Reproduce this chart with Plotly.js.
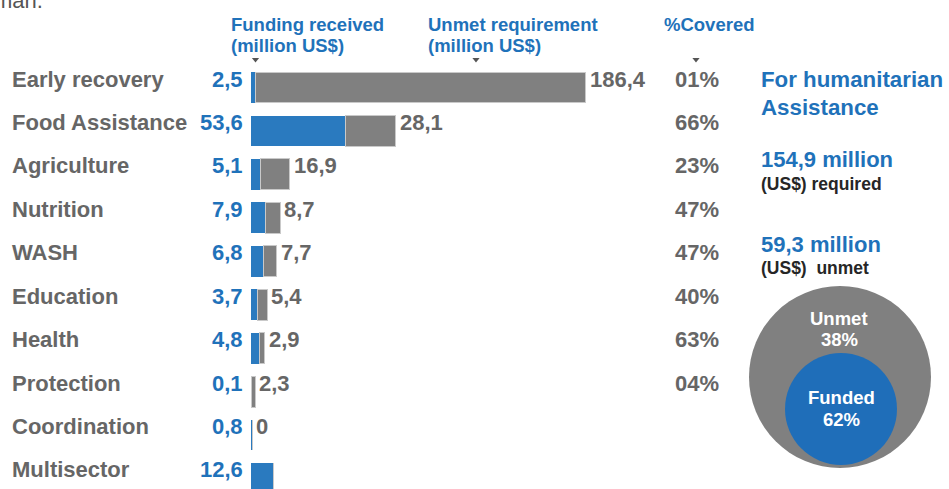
<!DOCTYPE html>
<html>
<head>
<meta charset="utf-8">
<script src="https://cdn.plot.ly/plotly-3.0.1.min.js"></script>
<style>html,body{margin:0;padding:0;background:#fff;}#chart{width:949px;height:489px;}</style>
</head>
<body>
<div id="chart"></div>
<script>
// ---- data ----
const categories = ["Early recovery","Food Assistance","Agriculture","Nutrition","WASH","Education","Health","Protection","Coordination","Multisector"];
const funded  = [2.5, 53.6, 5.1, 7.9, 6.8, 3.7, 4.8, 0.1, 0.8, 12.6];
const unmet   = [186.4, 28.1, 16.9, 8.7, 7.7, 5.4, 2.9, 2.3, 0, null];
const covered = ["01%","66%","23%","47%","47%","40%","63%","04%","",""];
const fundedLabels = ["2,5","53,6","5,1","7,9","6,8","3,7","4,8","0,1","0,8","12,6"];
const unmetLabels  = ["186,4","28,1","16,9","8,7","7,7","5,4","2,9","2,3","0",""];
const totalRequired = "154,9 million";
const totalUnmet = "59,3 million";
const pieShares = {unmet: "38%", funded: "62%"};

// ---- helpers (margins are 0, so paper = pixels) ----
const W = 949, H = 489;
const px = x => x / W;
const py = y => 1 - y / H;
const BLUE_T = "#1F72BA", BLUE_B = "#2A7ABF", GREY_B = "#808080", GREY_T = "#666666";
const FONT = "Liberation Sans, Arial, Helvetica, sans-serif";

const traces = [
  {type: "bar", orientation: "h", y: categories, x: funded, width: 0.71,
   marker: {color: BLUE_B, line: {width: 0}}, hoverinfo: "skip"},
  {type: "bar", orientation: "h", y: categories, x: unmet.map(v => v === null ? 0 : v), width: 0.71,
   marker: {color: GREY_B, line: {width: 1, color: "#c9c9c9"}}, hoverinfo: "skip"}
];

const ann = [];
const base = {borderwidth: 0, borderpad: 0, showarrow: false};
const TS = 8.5; // text sits a little above bar centre
categories.forEach((c, i) => {
  ann.push(Object.assign({}, base, {xref: "paper", yref: "y", x: px(12), y: c, xanchor: "left", yanchor: "middle", yshift: TS,
    text: "<b>" + c + "</b>", font: {family: FONT, size: 22, color: GREY_T}}));
  ann.push(Object.assign({}, base, {xref: "x", yref: "y", x: 0, y: c, xanchor: "right", yanchor: "middle", xshift: -8, yshift: TS,
    text: "<b>" + fundedLabels[i] + "</b>", font: {family: FONT, size: 22, color: BLUE_T}}));
  if (unmetLabels[i] !== "") {
    ann.push(Object.assign({}, base, {xref: "x", yref: "y", x: funded[i] + (unmet[i] || 0), y: c, xanchor: "left", yanchor: "middle", xshift: 4, yshift: TS,
      text: "<b>" + unmetLabels[i] + "</b>", font: {family: FONT, size: 22, color: GREY_T}}));
  }
  if (covered[i] !== "") {
    ann.push(Object.assign({}, base, {xref: "paper", yref: "y", x: px(697), y: c, xanchor: "center", yanchor: "middle", yshift: TS,
      text: "<b>" + covered[i] + "</b>", font: {family: FONT, size: 22, color: GREY_T}}));
  }
});

function txt(t, x, y, size, color, anchor, bold) {
  ann.push(Object.assign({}, base, {xref: "paper", yref: "paper", x: px(x), y: py(y), xanchor: anchor || "left", yanchor: "middle",
    text: bold === false ? t : "<b>" + t + "</b>", font: {family: FONT, size: size, color: color}}));
}
// headers
txt("Funding received", 231, 24, 18.5, BLUE_T);
txt("(million US$)", 231, 46, 18.5, BLUE_T);
txt("Unmet requirement", 428, 24, 18.5, BLUE_T);
txt("(million US$)", 428, 46, 18.5, BLUE_T);
txt("%Covered", 664, 24, 18.5, BLUE_T);
// cut-off text at the top (as in the reference)
txt("man.", 43, 0.7, 22, "#555555", "right", false);
// right panel
txt("For humanitarian", 761, 79.5, 22.3, BLUE_T);
txt("Assistance", 761, 107.5, 22.3, BLUE_T);
txt(totalRequired, 761, 160, 22, BLUE_T);
txt("(US$) required", 761, 184, 17.5, "#262626");
txt(totalUnmet, 761, 244, 22, BLUE_T);
txt("(US$)  unmet", 761, 268, 17.5, "#262626");
txt("Unmet", 839, 318, 18.5, "#ffffff", "center");
txt(pieShares.unmet, 839, 339.5, 18.5, "#ffffff", "center");
txt("Funded", 841, 397, 18.5, "#ffffff", "center");
txt(pieShares.funded, 841, 419.5, 18.5, "#ffffff", "center");

const shapes = [];
function tri(cx) {
  shapes.push({type: "path", xref: "paper", yref: "paper", fillcolor: "#555555", line: {width: 0},
    path: `M ${px(cx - 3.6)} ${py(58)} L ${px(cx + 3.6)} ${py(58)} L ${px(cx)} ${py(62.6)} Z`});
}
tri(255.5); tri(476); tri(696);
function circ(cx, cy, r, col) {
  shapes.push({type: "circle", xref: "paper", yref: "paper", layer: "below", fillcolor: col, line: {width: 0},
    x0: px(cx - r), x1: px(cx + r), y0: py(cy + r), y1: py(cy - r)});
}
circ(840, 377, 91, "#808080");
circ(841, 409, 56, "#1F6EB9");

const layout = {
  width: W, height: H, margin: {l: 0, r: 0, t: 0, b: 0},
  paper_bgcolor: "#ffffff", plot_bgcolor: "rgba(0,0,0,0)",
  barmode: "stack", showlegend: false,
  xaxis: {domain: [251 / W, 1], range: [0, 698 / 1.772], visible: false, fixedrange: true},
  yaxis: {type: "category", categoryarray: categories, categoryorder: "array", range: [9.242, -2.014], visible: false, fixedrange: true},
  annotations: ann, shapes: shapes
};
Plotly.newPlot("chart", traces, layout, {displayModeBar: false, staticPlot: true});
</script>
</body>
</html>
